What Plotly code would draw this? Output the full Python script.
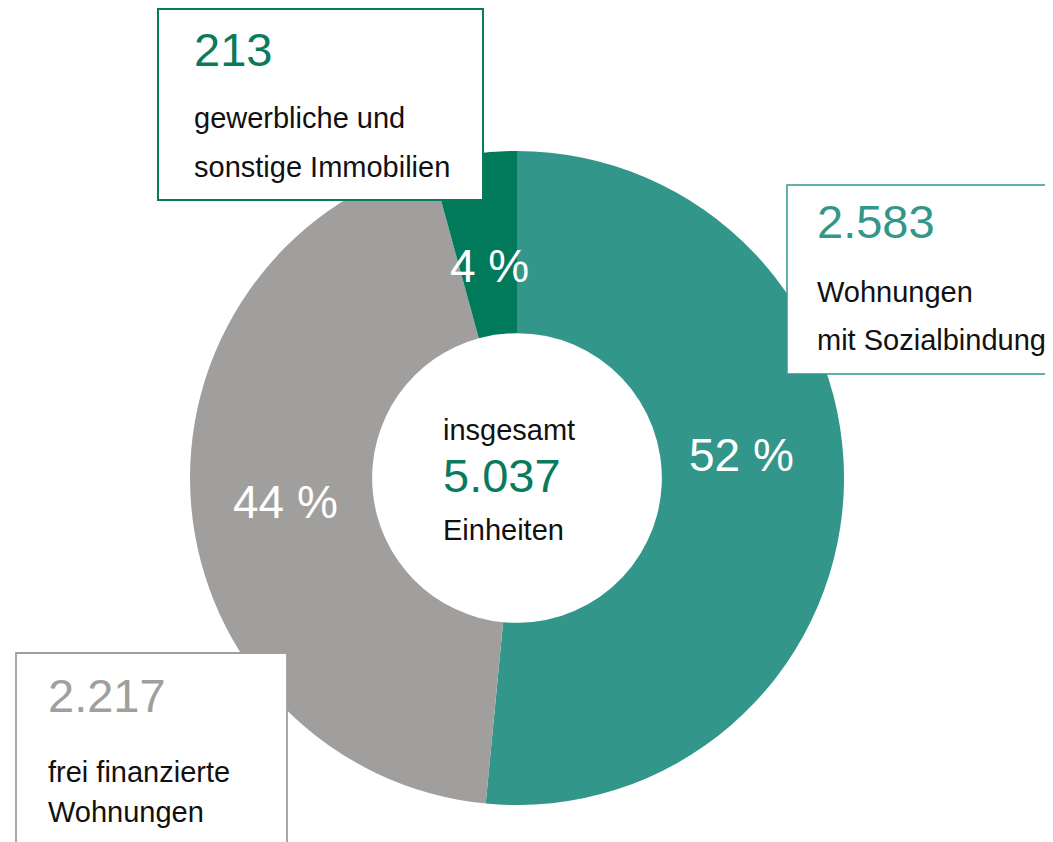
import plotly.graph_objects as go

# page is 1053x842; the HTML body has an 8px margin, so the figure is slightly smaller
OFF = 8
W, H = 1053 - OFF, 842 - OFF

categories = ["Wohnungen mit Sozialbindung", "frei finanzierte Wohnungen", "gewerbliche und sonstige Immobilien"]
values = [2583, 2217, 213]
value_labels = ["2.583", "2.217", "213"]
percent_labels = ["52 %", "44 %", "4 %"]
total_label = "5.037"
desc_lines = [["Wohnungen", "mit Sozialbindung"], ["frei finanzierte", "Wohnungen"], ["gewerbliche und", "sonstige Immobilien"]]

TEAL = "#33968a"
GREY = "#a09f9d"
DARK = "#007a5a"
colors = [TEAL, GREY, DARK]
num_colors = ["#33968a", "#a09f9d", "#0a7a5c"]
border_colors = ["#33968a", "#a09f9d", "#0a7a5c"]

FONT = "Arial, Liberation Sans, Helvetica, sans-serif"

def px(x):
    return (x - OFF) / W

def py(y):
    return 1 - (y - OFF) / H

cx, cy, R = 517, 478, 327

fig = go.Figure(go.Pie(
    labels=categories,
    values=values,
    sort=False,
    direction="clockwise",
    rotation=0,
    hole=0.443,
    marker=dict(colors=colors, line=dict(width=0)),
    textinfo="none",
    hoverinfo="label+value",
    showlegend=False,
    domain=dict(x=[px(cx - R), px(cx + R)], y=[py(cy + R), py(cy - R)]),
))

shapes = []
# boxes: (x0, y0, x1, y1, line width) in page pixels
boxes = [
    (787, 185, 1070, 374, 1.5),   # teal
    (16, 653, 287, 870, 1.8),     # grey
    (158, 9, 483, 200, 2.0),      # dark
]
for (x0, y0, x1, y1, lw), bc in zip(boxes, border_colors):
    shapes.append(dict(type="rect", xref="paper", yref="paper",
                       x0=px(x0), x1=px(x1), y0=py(y1), y1=py(y0),
                       fillcolor="white", line=dict(color=bc, width=lw), layer="above"))

annotations = []

def add(text, x, y, size, color, xanchor="left"):
    annotations.append(dict(text=text, x=px(x), y=py(y), xref="paper", yref="paper",
                            xanchor=xanchor, yanchor="middle", showarrow=False,
                            borderpad=0, font=dict(family=FONT, size=size, color=color)))

# box texts: (left x, number center y, line1 center y, line2 center y)
box_text_pos = [
    (816, 222, 292, 340),
    (47, 695, 772, 812),
    (193, 49, 118, 167),
]
for (lx, ny, l1, l2), num, lines, nc in zip(box_text_pos, value_labels, desc_lines, num_colors):
    add(num, lx, ny, 47, nc)
    add(lines[0], lx, l1, 29, "#111111")
    add(lines[1], lx, l2, 29, "#111111")

# percent labels
pct_pos = [(741, 455), (285, 502), (489, 266)]
for (x, y), t in zip(pct_pos, percent_labels):
    add(t, x, y, 46, "white", xanchor="center")

# center text
add("insgesamt", 442, 430, 29, "#111111")
add(total_label, 442, 476, 47, "#0a7a5c")
add("Einheiten", 442, 530, 29, "#111111")

fig.update_layout(
    width=W, height=H,
    margin=dict(l=0, r=0, t=0, b=0),
    paper_bgcolor="white",
    plot_bgcolor="white",
    shapes=shapes,
    annotations=annotations,
)

fig.write_html("out.html")
